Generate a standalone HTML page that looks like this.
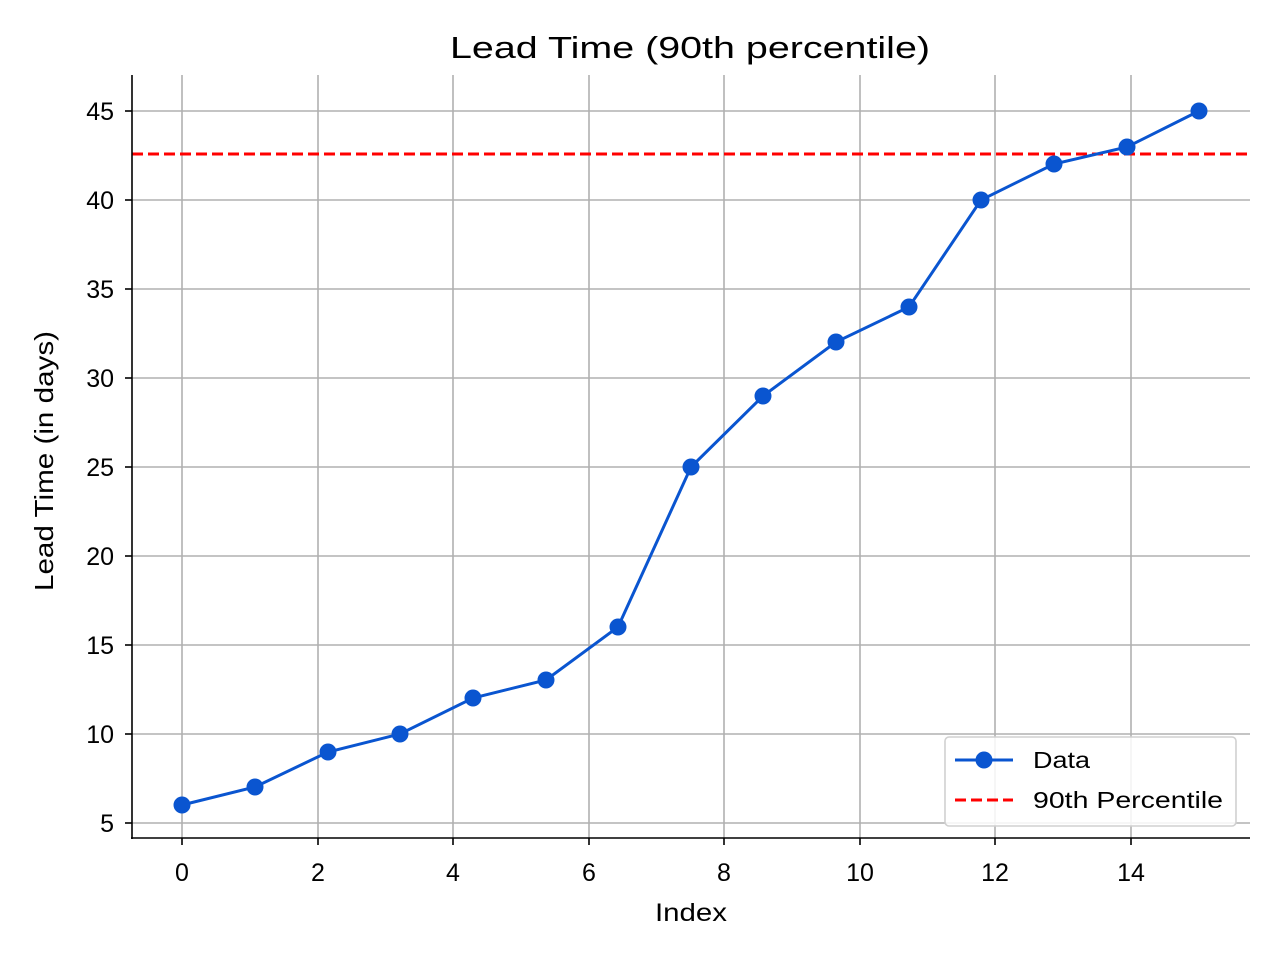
<!DOCTYPE html>
<html><head><meta charset="utf-8"><style>
body{margin:0;background:#fff;}
svg{display:block;font-family:"Liberation Sans","DejaVu Sans",sans-serif;}
</style></head><body>
<svg width="1280" height="960" viewBox="0 0 1280 960" xmlns="http://www.w3.org/2000/svg">
<rect width="1280" height="960" fill="#fff"/>
<g stroke="#b0b0b0" stroke-width="1.6">
<line x1="182" y1="75" x2="182" y2="838"/><line x1="318" y1="75" x2="318" y2="838"/>
<line x1="453" y1="75" x2="453" y2="838"/><line x1="589" y1="75" x2="589" y2="838"/>
<line x1="724" y1="75" x2="724" y2="838"/><line x1="860" y1="75" x2="860" y2="838"/>
<line x1="995" y1="75" x2="995" y2="838"/><line x1="1131" y1="75" x2="1131" y2="838"/>
<line x1="132" y1="823" x2="1250" y2="823"/><line x1="132" y1="734" x2="1250" y2="734"/>
<line x1="132" y1="645" x2="1250" y2="645"/><line x1="132" y1="556" x2="1250" y2="556"/>
<line x1="132" y1="467" x2="1250" y2="467"/><line x1="132" y1="378" x2="1250" y2="378"/>
<line x1="132" y1="289" x2="1250" y2="289"/><line x1="132" y1="200" x2="1250" y2="200"/>
<line x1="132" y1="111" x2="1250" y2="111"/>
</g>
<line x1="132" y1="154" x2="1250" y2="154" stroke="#ff0000" stroke-width="3" stroke-dasharray="11,5"/>
<polyline fill="none" stroke="#0a55d0" stroke-width="3" points="182,805 255,787 328,752 400,734 473,698 546,680 618,627 691,467 763,396 836,342 909,307 981,200 1054,164 1127,147 1199,111"/>
<g fill="#0a55d0">
<circle cx="182" cy="805" r="8.5"/><circle cx="255" cy="787" r="8.5"/><circle cx="328" cy="752" r="8.5"/>
<circle cx="400" cy="734" r="8.5"/><circle cx="473" cy="698" r="8.5"/><circle cx="546" cy="680" r="8.5"/>
<circle cx="618" cy="627" r="8.5"/><circle cx="691" cy="467" r="8.5"/><circle cx="763" cy="396" r="8.5"/>
<circle cx="836" cy="342" r="8.5"/><circle cx="909" cy="307" r="8.5"/><circle cx="981" cy="200" r="8.5"/>
<circle cx="1054" cy="164" r="8.5"/><circle cx="1127" cy="147" r="8.5"/><circle cx="1199" cy="111" r="8.5"/>
</g>
<g stroke="#000" stroke-width="1.6">
<line x1="132" y1="75" x2="132" y2="839"/><line x1="131" y1="838" x2="1250" y2="838"/>
<line x1="182" y1="838" x2="182" y2="845"/><line x1="318" y1="838" x2="318" y2="845"/>
<line x1="453" y1="838" x2="453" y2="845"/><line x1="589" y1="838" x2="589" y2="845"/>
<line x1="724" y1="838" x2="724" y2="845"/><line x1="860" y1="838" x2="860" y2="845"/>
<line x1="995" y1="838" x2="995" y2="845"/><line x1="1131" y1="838" x2="1131" y2="845"/>
<line x1="125" y1="823" x2="132" y2="823"/><line x1="125" y1="734" x2="132" y2="734"/>
<line x1="125" y1="645" x2="132" y2="645"/><line x1="125" y1="556" x2="132" y2="556"/>
<line x1="125" y1="467" x2="132" y2="467"/><line x1="125" y1="378" x2="132" y2="378"/>
<line x1="125" y1="289" x2="132" y2="289"/><line x1="125" y1="200" x2="132" y2="200"/>
<line x1="125" y1="111" x2="132" y2="111"/>
</g>
<g font-size="25" fill="#000" text-anchor="middle">
<text x="182" y="881">0</text><text x="318" y="881">2</text><text x="453" y="881">4</text>
<text x="589" y="881">6</text><text x="724" y="881">8</text><text x="860" y="881">10</text>
<text x="995" y="881">12</text><text x="1131" y="881">14</text>
</g>
<g font-size="25" fill="#000" text-anchor="end">
<text x="114" y="832">5</text><text x="114" y="743">10</text><text x="114" y="654">15</text>
<text x="114" y="565">20</text><text x="114" y="476">25</text><text x="114" y="387">30</text>
<text x="114" y="298">35</text><text x="114" y="209">40</text><text x="114" y="120">45</text>
</g>
<text x="655" y="921" font-size="25" textLength="72" lengthAdjust="spacingAndGlyphs">Index</text>
<text transform="translate(53,591) rotate(-90)" font-size="26" textLength="260" lengthAdjust="spacingAndGlyphs">Lead Time (in days)</text>
<text x="450" y="58" font-size="31" textLength="480" lengthAdjust="spacingAndGlyphs">Lead Time (90th percentile)</text>
<rect x="945" y="737" width="291" height="89" rx="4" fill="#fff" fill-opacity="0.85" stroke="#d0d0d0" stroke-width="1.6"/>
<line x1="955" y1="760" x2="1013" y2="760" stroke="#0a55d0" stroke-width="3"/>
<circle cx="984" cy="760" r="8.5" fill="#0a55d0"/>
<text x="1033" y="768" font-size="23" textLength="57" lengthAdjust="spacingAndGlyphs">Data</text>
<line x1="955" y1="800" x2="1013" y2="800" stroke="#ff0000" stroke-width="3" stroke-dasharray="11,5"/>
<text x="1033" y="808" font-size="23" textLength="190" lengthAdjust="spacingAndGlyphs">90th Percentile</text>
</svg>
</body></html>
